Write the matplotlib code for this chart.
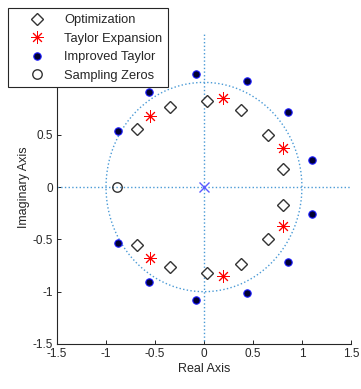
import numpy as np
import matplotlib.pyplot as plt

plt.rcParams['font.family'] = ['Liberation Sans', 'DejaVu Sans']

# upper-half zeros of each design; lower half is the conjugate
opt_re = [-0.68, -0.344, 0.027, 0.378, 0.656, 0.803]
opt_im = [0.552, 0.762, 0.826, 0.736, 0.495, 0.168]
tay_re = [-0.554, 0.197, 0.803]
tay_im = [0.679, 0.851, 0.374]
imp_re = [-0.88, -0.558, -0.082, 0.435, 0.86, 1.105]
imp_im = [0.533, 0.908, 1.083, 1.016, 0.717, 0.254]
samp_re = [-0.888]
samp_im = [0.0]
pole_re = [0.0]
pole_im = [0.0]

def conj(re, im):
    re = np.array(re); im = np.array(im)
    keep = im != 0
    return np.concatenate([re, re[keep]]), np.concatenate([im, -im[keep]])

fig = plt.figure(figsize=(3.61, 3.89), dpi=100)
ax = fig.add_axes([0.158, 0.1157, 0.814, 0.807])

grid_c = '#4a9ad6'
th = np.linspace(0, 2 * np.pi, 400)
ax.plot(np.cos(th), np.sin(th), ls=':', color=grid_c, lw=1.0)
ax.axhline(0, ls=':', color=grid_c, lw=1.0)
ax.axvline(0, ls=':', color=grid_c, lw=1.0, ymin=0.01, ymax=0.99)

x, y = conj(opt_re, opt_im)
ax.plot(x, y, 'D', ms=6.3, mfc='white', mec='#333333', mew=1.0, ls='none',
        label='Optimization')
x, y = conj(tay_re, tay_im)
ax.plot(x, y, marker=(8, 2, 0), ms=9, color='red', mew=0.7, ls='none',
        label='Taylor Expansion')
x, y = conj(imp_re, imp_im)
ax.plot(x, y, 'o', ms=5.3, mfc='#000033', mec='#1a1aff', mew=0.8, ls='none',
        label='Improved Taylor')
ax.plot(samp_re, samp_im, 'o', ms=6.8, mfc='none', mec='#333333', mew=1.0,
        ls='none', label='Sampling Zeros')
ax.plot(pole_re, pole_im, 'x', ms=7, color='#5b5bff', mew=1.0, ls='none')

ax.set_xlim(-1.5, 1.5)
ax.set_ylim(-1.5, 1.5)
ax.set_xticks([-1.5, -1, -0.5, 0, 0.5, 1, 1.5])
ax.set_yticks([-1.5, -1, -0.5, 0, 0.5, 1, 1.5])
ax.set_xticklabels(['-1.5', '-1', '-0.5', '0', '0.5', '1', '1.5'])
ax.set_yticklabels(['-1.5', '-1', '-0.5', '0', '0.5', '1', '1.5'])
ax.spines['top'].set_visible(False)
ax.spines['right'].set_visible(False)
for s in ('left', 'bottom'):
    ax.spines[s].set_color('#262626')
    ax.spines[s].set_linewidth(0.8)
ax.tick_params(direction='in', length=3, width=0.7, colors='#262626',
               labelsize=8.5, pad=3)
ax.set_xlabel('Real Axis', fontsize=9, color='#262626', labelpad=2)
ax.set_ylabel('Imaginary Axis', fontsize=9, color='#262626', labelpad=2)

leg = ax.legend(loc='upper left', bbox_to_anchor=(0.022, 0.979),
                bbox_transform=fig.transFigure, fontsize=9.3, frameon=True,
                fancybox=False, edgecolor='#262626', framealpha=1,
                borderpad=0.45, labelspacing=0.5, handlelength=3.6,
                handletextpad=0.3, borderaxespad=0)
leg.get_frame().set_linewidth(0.8)
for t in leg.get_texts():
    t.set_color('#262626')

fig.savefig('out.png', dpi=100)
